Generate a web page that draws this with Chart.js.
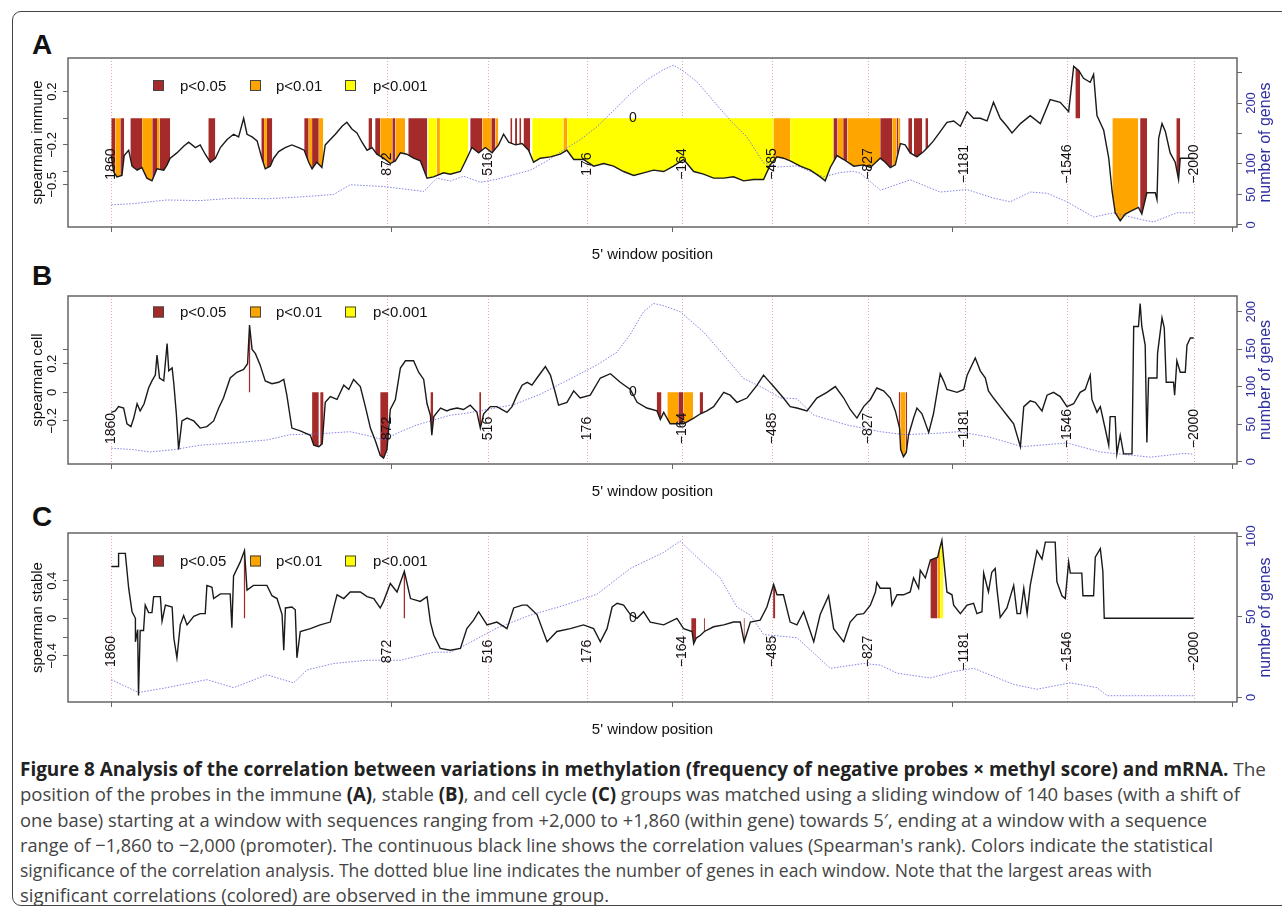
<!DOCTYPE html>
<html>
<head>
<meta charset="utf-8">
<script src="https://cdn.jsdelivr.net/npm/chart.js@4.4.1/dist/chart.umd.min.js"></script>
<style>
  body { margin: 0; background: #fff; width: 1282px; height: 915px; overflow: hidden; position: relative; }
  #frame { position: absolute; left: 12px; top: 11px; width: 1300px; height: 893px; border: 1.5px solid #444; border-radius: 9px; }
  canvas { position: absolute; left: 0; }
  .letter { position: absolute; left: 32px; font: bold 28px "Liberation Sans", Arial, sans-serif; line-height: 1; color: #111; }
  #caption { position: absolute; left: 20px; top: 757px; font-family: "Open Sans", sans-serif; font-size: 19px; line-height: 25.3px; color: #444; }
  #caption div { white-space: nowrap; transform-origin: 0 50%; width: max-content; }
  #caption b { color: #222; }
</style>
</head>
<body>
<div id="frame"></div>
<div class="letter" style="top:31px">A</div>
<div class="letter" style="top:262px">B</div>
<div class="letter" style="top:503px">C</div>
<canvas id="cA" width="1282" height="231" style="top:38px"></canvas>
<canvas id="cB" width="1282" height="230" style="top:276px"></canvas>
<canvas id="cC" width="1282" height="231" style="top:513px"></canvas>
<div id="caption">
  <div><b>Figure 8 Analysis of the correlation between variations in methylation (frequency of negative probes × methyl score) and mRNA.</b> The</div>
  <div>position of the probes in the immune <b>(A)</b>, stable <b>(B)</b>, and cell cycle <b>(C)</b> groups was matched using a sliding window of 140 bases (with a shift of</div>
  <div>one base) starting at a window with sequences ranging from +2,000 to +1,860 (within gene) towards 5′, ending at a window with a sequence</div>
  <div>range of −1,860 to −2,000 (promoter). The continuous black line shows the correlation values (Spearman's rank). Colors indicate the statistical</div>
  <div>significance of the correlation analysis. The dotted blue line indicates the number of genes in each window. Note that the largest areas with</div>
  <div>significant correlations (colored) are observed in the immune group.</div>
</div>
<script>
'use strict';

// ---- shared axis data (window index along x) ----
const xTickValues = [0, 1000, 2000, 3000, 4000];
const posLabelIdx = [0, 983, 1343, 1697, 2035, 2356, 2699, 3043, 3408, 3860];
const posLabelText = ['1860', '872', '516', '176', '\u2212164', '\u2212485', '\u2212827', '\u22121181', '\u22121546', '\u22122000'];
const zeroIdx = 1860;
const sigLegend = ['p<0.05', 'p<0.01', 'p<0.001'];
const sigColors = ['#a52a2a', '#ffa500', '#ffff00'];

// ---- A: immune ----
const immuneX = [0,8,20,38,46,62,74,92,109,127,145,163,187,199,210,234,258,276,300,317,335,353,371,389,413,436,454,472,484,502,520,537,549,567,579,597,620,644,668,688,704,716,733,751,763,781,799,823,840,858,876,894,912,930,947,971,995,1013,1031,1054,1078,1102,1126,1149,1185,1209,1245,1268,1286,1310,1334,1358,1381,1399,1417,1441,1465,1488,1506,1530,1566,1601,1625,1649,1684,1720,1756,1791,1827,1863,1898,1934,1970,2005,2041,2077,2112,2148,2184,2219,2255,2291,2326,2350,2374,2397,2421,2457,2493,2528,2546,2564,2588,2612,2648,2683,2707,2742,2760,2778,2796,2814,2831,2849,2873,2897,2915,2932,2956,2980,3004,3028,3052,3075,3099,3123,3146,3170,3194,3212,3242,3277,3313,3348,3384,3414,3432,3450,3467,3491,3503,3515,3539,3557,3569,3580,3598,3616,3634,3663,3675,3693,3723,3729,3735,3747,3759,3776,3794,3806,3812,3848,3860];
const immuneRho = [-0.28,-0.40,-0.44,-0.43,-0.28,-0.24,-0.36,-0.39,-0.37,-0.45,-0.47,-0.38,-0.39,-0.35,-0.30,-0.26,-0.21,-0.18,-0.22,-0.20,-0.27,-0.33,-0.30,-0.22,-0.16,-0.12,-0.14,0.00,-0.12,-0.14,-0.17,-0.30,-0.38,-0.36,-0.30,-0.25,-0.22,-0.20,-0.22,-0.24,-0.33,-0.38,-0.33,-0.37,-0.20,-0.16,-0.12,-0.06,-0.03,-0.08,-0.11,-0.18,-0.24,-0.22,-0.27,-0.30,-0.34,-0.32,-0.26,-0.27,-0.30,-0.32,-0.45,-0.44,-0.41,-0.42,-0.40,-0.30,-0.22,-0.26,-0.22,-0.26,-0.20,-0.12,-0.18,-0.20,-0.19,-0.24,-0.33,-0.30,-0.29,-0.27,-0.24,-0.31,-0.31,-0.36,-0.34,-0.36,-0.40,-0.43,-0.41,-0.39,-0.40,-0.36,-0.31,-0.40,-0.42,-0.45,-0.45,-0.44,-0.47,-0.46,-0.46,-0.35,-0.29,-0.30,-0.32,-0.36,-0.39,-0.44,-0.47,-0.37,-0.28,-0.31,-0.36,-0.35,-0.37,-0.30,-0.33,-0.37,-0.35,-0.19,-0.20,-0.26,-0.29,-0.25,-0.21,-0.17,-0.10,-0.03,-0.02,-0.06,0.05,0.00,0.00,-0.02,0.12,0.00,-0.06,-0.11,-0.04,0.02,-0.04,0.14,0.12,0.05,0.39,0.36,0.30,0.27,0.33,0.02,-0.09,-0.30,-0.55,-0.71,-0.77,-0.72,-0.70,-0.67,-0.72,-0.56,-0.56,-0.61,-0.15,-0.04,-0.10,-0.26,-0.33,-0.46,-0.30,-0.30,-0.30];
const immuneGenesX = [0,79,198,317,436,555,674,793,852,971,1114,1162,1209,1257,1316,1376,1495,1554,1613,1673,1732,1803,1851,1910,1970,2005,2041,2088,2124,2172,2207,2267,2326,2374,2445,2540,2600,2648,2671,2743,2849,2956,3052,3146,3206,3277,3337,3408,3503,3574,3681,3717,3800,3860];
const immuneGenes = [33,35,41,40,44,43,46,50,66,63,55,77,72,80,70,75,90,105,123,140,161,193,215,238,255,262,252,235,216,190,172,144,102,95,97,79,86,88,85,57,74,54,58,44,38,54,52,38,13,20,8,5,20,20];
const immuneSigStart = [0,14,32,68,110,146,163,172,346,535,545,555,688,704,716,740,917,941,959,1002,1013,1059,1130,1160,1172,1280,1323,1355,1370,1423,1440,1455,1470,1501,1612,1626,2361,2421,2575,2590,2610,2625,2742,2785,2800,2806,2842,2862,2903,3438,3570,3669,3798];
const immuneSigEnd = [14,32,46,110,146,163,172,210,371,545,555,574,704,716,740,756,930,959,1002,1013,1048,1127,1160,1172,1273,1323,1355,1370,1380,1430,1447,1462,1494,1612,1626,2361,2421,2575,2590,2610,2625,2742,2785,2800,2806,2814,2856,2892,2913,3455,3662,3694,3812];
const immuneSigLevel = [1,2,1,1,2,1,2,1,1,1,2,1,1,2,1,2,1,1,2,1,2,1,3,2,3,1,2,1,2,1,1,1,1,3,2,3,2,3,1,2,1,2,1,2,1,2,1,1,1,1,2,1,1];
const immuneTicks = [0.2, 0, -0.2, -0.4, -0.5];
const immuneTickLabels = ['0.2', '', '\u22120.2', '', '\u22120.5'];
const immuneGeneTicks = [0, 50, 100, 150, 200, 250];
const immuneGeneTickLabels = ['0', '50', '100', '', '200', ''];

// ---- B: cell ----
const cellX = [0,14,26,44,56,70,80,92,103,117,133,145,157,163,172,187,199,205,217,223,232,240,252,270,294,317,341,365,383,400,424,448,472,486,493,502,514,531,549,573,597,615,626,644,674,710,722,740,752,763,781,805,829,847,864,888,906,924,942,959,971,983,995,1013,1031,1049,1078,1096,1114,1126,1138,1143,1150,1174,1197,1209,1233,1256,1280,1304,1316,1328,1352,1375,1411,1429,1447,1465,1483,1500,1518,1548,1566,1583,1595,1625,1649,1672,1708,1744,1780,1815,1851,1875,1910,1946,1958,1970,1993,2041,2077,2101,2124,2148,2184,2207,2231,2267,2303,2326,2344,2362,2397,2421,2445,2481,2516,2552,2582,2612,2635,2659,2683,2707,2730,2754,2778,2796,2811,2815,2825,2835,2843,2861,2873,2891,2915,2932,2956,2968,2980,3016,3040,3052,3081,3099,3117,3128,3146,3170,3194,3218,3242,3254,3277,3295,3319,3337,3360,3384,3408,3432,3455,3473,3491,3497,3515,3527,3545,3557,3562,3580,3586,3598,3610,3640,3646,3663,3669,3675,3687,3693,3699,3729,3731,3747,3755,3762,3788,3792,3800,3812,3830,3836,3848,3860];
const cellRho = [-0.14,-0.13,-0.10,-0.11,-0.22,-0.24,-0.18,-0.08,-0.13,-0.08,0.03,0.08,0.12,0.26,0.10,0.08,0.34,0.15,0.17,0.06,-0.15,-0.40,-0.20,-0.18,-0.20,-0.25,-0.24,-0.20,-0.11,-0.04,0.10,0.14,0.16,0.20,0.47,0.30,0.27,0.19,0.08,0.06,0.07,0.09,-0.02,-0.25,-0.27,-0.30,-0.37,-0.38,-0.36,-0.07,-0.03,-0.05,0.05,0.02,0.09,0.04,-0.10,-0.25,-0.34,-0.44,-0.46,-0.40,-0.12,-0.05,0.17,0.22,0.22,0.14,0.09,-0.08,-0.16,-0.30,-0.17,-0.11,-0.13,-0.12,-0.11,-0.12,-0.09,-0.14,-0.25,-0.15,-0.10,-0.10,-0.14,-0.10,-0.02,0.05,0.07,0.05,0.10,0.18,0.12,0.00,-0.09,-0.07,0.01,-0.04,-0.02,0.10,0.13,0.07,0.02,-0.07,-0.11,-0.13,-0.19,-0.14,-0.22,-0.22,-0.18,-0.15,-0.13,-0.10,0.00,-0.02,-0.07,-0.04,0.05,0.12,0.08,0.04,-0.04,-0.10,-0.11,-0.13,-0.04,0.00,0.04,-0.04,-0.12,-0.18,-0.10,-0.05,0.03,0.01,-0.04,-0.13,-0.25,-0.40,-0.45,-0.42,-0.30,-0.18,-0.11,-0.15,-0.28,-0.15,0.13,0.08,0.02,0.00,0.02,0.12,0.24,0.15,0.10,0.01,-0.04,-0.10,-0.16,-0.22,-0.38,-0.10,-0.06,-0.07,-0.13,-0.02,0.00,-0.03,-0.10,-0.08,0.00,0.02,0.12,-0.05,-0.14,-0.10,-0.26,-0.37,-0.17,-0.17,-0.43,-0.30,-0.43,-0.43,0.46,0.46,0.62,0.46,0.33,-0.35,0.10,0.10,0.27,0.52,0.45,0.07,0.07,-0.02,0.22,0.14,0.14,0.33,0.38,0.38];
const cellGenesX = [0,79,139,222,317,436,555,638,733,852,912,971,1031,1090,1209,1257,1435,1530,1613,1732,1803,1851,1898,1934,1970,2029,2112,2184,2255,2326,2386,2445,2505,2624,2743,2831,2950,3022,3129,3248,3408,3527,3705,3824,3860];
const cellGenes = [18,16,13,16,22,25,29,36,37,40,35,29,40,49,62,64,76,90,106,129,146,170,200,211,208,200,173,142,111,98,85,84,62,49,40,36,38,40,33,20,25,13,6,11,10];
const cellSigStart = [490,716,745,959,1138,1312,1945,1983,2022,2040,2098,2808,2814,2833];
const cellSigEnd = [496,740,757,988,1148,1319,1962,2022,2040,2075,2110,2814,2833,2838];
const cellSigLevel = [1,1,1,1,1,1,1,2,1,2,1,1,2,1];
const cellTicks = [0.3, 0.2, 0, -0.2];
const cellTickLabels = ['', '0.2', '0', '\u22120.2'];
const cellGeneTicks = [0, 50, 100, 150, 200];
const cellGeneTickLabels = ['0', '50', '100', '150', '200'];

// ---- C: stable ----
const stableX = [0,26,26,50,62,74,86,86,94,97,103,115,121,133,145,151,175,181,193,217,223,234,246,258,270,294,317,335,341,359,365,389,424,430,436,460,475,484,507,555,573,591,609,615,621,644,656,662,674,710,745,781,793,805,829,852,888,912,936,959,971,995,1019,1045,1067,1102,1126,1138,1150,1173,1209,1245,1268,1292,1310,1340,1375,1411,1435,1465,1483,1518,1554,1589,1637,1684,1720,1744,1768,1786,1804,1827,1851,1875,1898,1922,1970,2017,2041,2071,2077,2086,2101,2115,2148,2184,2219,2243,2257,2279,2314,2338,2362,2374,2397,2421,2445,2469,2505,2528,2558,2576,2612,2635,2659,2683,2707,2725,2730,2742,2778,2784,2802,2825,2849,2861,2879,2885,2903,2921,2947,2954,2962,2968,2980,2998,3004,3028,3052,3075,3087,3105,3111,3128,3140,3152,3158,3170,3194,3218,3230,3242,3254,3266,3277,3301,3319,3331,3366,3372,3390,3402,3414,3420,3461,3465,3503,3509,3527,3536,3541,3860];
const stableRho = [0.55,0.55,0.69,0.69,0.32,0.07,0.00,-0.25,-0.12,-0.82,-0.13,-0.13,0.14,0.06,0.06,0.23,0.23,-0.03,0.14,0.12,-0.21,-0.42,-0.07,0.03,-0.07,0.02,0.05,0.05,0.35,0.33,0.21,0.26,0.26,-0.10,0.45,0.60,0.72,0.30,0.35,0.35,0.24,0.21,0.04,-0.34,0.11,0.12,0.09,-0.42,-0.14,-0.11,-0.07,-0.04,0.11,0.25,0.21,0.28,0.28,0.23,0.21,0.11,0.18,0.37,0.28,0.50,0.21,0.18,0.23,-0.04,-0.18,-0.32,-0.34,-0.32,-0.11,-0.02,0.07,-0.07,-0.04,-0.11,0.11,0.14,0.14,0.04,-0.25,-0.14,-0.11,-0.07,-0.11,-0.25,-0.11,0.12,0.16,0.14,0.04,0.00,0.07,-0.04,-0.07,0.00,-0.11,-0.14,-0.27,-0.21,-0.18,-0.14,-0.09,-0.07,-0.04,-0.04,-0.25,-0.04,-0.02,0.12,0.36,0.25,0.25,-0.04,-0.07,0.07,-0.25,0.04,0.24,-0.11,-0.25,-0.04,0.04,0.05,0.14,0.28,0.38,0.32,0.32,0.14,0.25,0.25,0.28,0.43,0.32,0.51,0.43,0.62,0.65,0.74,0.83,0.64,0.28,0.25,0.14,0.05,0.14,0.16,0.05,0.07,0.48,0.28,0.49,0.53,0.32,0.01,0.11,0.35,0.05,0.05,0.32,0.05,0.35,0.72,0.63,0.81,0.81,0.39,0.24,0.21,0.60,0.48,0.48,0.24,0.24,0.65,0.74,0.50,0.00,0.00];
const stableGenesX = [0,97,198,341,436,555,650,698,793,912,1031,1150,1209,1257,1375,1494,1613,1732,1851,1970,2029,2088,2172,2231,2279,2326,2445,2564,2683,2743,2802,2921,3004,3075,3218,3301,3420,3515,3551,3860];
const stableGenes = [11,3,6,11,6,14,9,17,21,23,23,28,28,32,43,51,57,64,80,90,97,87,74,56,51,39,37,18,21,20,15,12,16,18,8,5,9,6,1,1];
const stableSigStart = [472,1042,2068,2113,2255,2360,2921,2946,2956];
const stableSigEnd = [478,1048,2086,2117,2259,2368,2946,2956,2967];
const stableSigLevel = [1,1,1,1,1,1,1,2,3];
const stableTicks = [0.4, 0.2, 0, -0.2, -0.4];
const stableTickLabels = ['0.4', '', '0', '', '\u22120.4'];
const stableGeneTicks = [0, 50, 100];
const stableGeneTickLabels = ['0', '50', '100'];

// ---- page layout ----
const FONT = '"Liberation Sans", Arial, Helvetica, sans-serif';
const INK = '#111';
const GENE_BLUE = '#2f2fa0';
const LEFT_W = 68, RIGHT_W = 45, X_H = 42, PAD_TOP = 20;
const X_MIN = -154.4, X_MAX = 4014.4;
const legendBoxX = [153, 250, 345];
const legendTextX = [180, 276, 373];

Chart.defaults.font.family = FONT;

function lineAt(xs, ys, v) {
  for (let k = 1; k < xs.length; k++) {
    if (xs[k] >= v) {
      const x0 = xs[k - 1], x1 = xs[k];
      if (x1 === x0) return ys[k];
      return ys[k - 1] + (ys[k] - ys[k - 1]) * (v - x0) / (x1 - x0);
    }
  }
  return ys[ys.length - 1];
}

function pairs(xs, ys) {
  return xs.map((x, k) => ({ x, y: ys[k] }));
}

// one filled area per significant stretch, bounded by the correlation line
function sigFills(xs, ys, starts, ends, levels) {
  return starts.map((s, k) => {
    const e = ends[k];
    const pts = [{ x: s, y: lineAt(xs, ys, s) }];
    xs.forEach((x, j) => { if (x > s && x < e) pts.push({ x, y: ys[j] }); });
    pts.push({ x: e, y: lineAt(xs, ys, e) });
    return {
      data: pts, yAxisID: 'y', fill: 'origin',
      backgroundColor: sigColors[levels[k] - 1],
      borderColor: 'rgba(0,0,0,0)', borderWidth: 0, pointRadius: 0, tension: 0
    };
  });
}

function decor(p) {
  return {
    id: 'decor',
    beforeDatasetsDraw(chart) {
      const { ctx, chartArea: a, scales: { x } } = chart;
      ctx.save();
      ctx.strokeStyle = 'rgba(236,130,130,0.75)';
      ctx.lineWidth = 1;
      ctx.setLineDash([1, 2]);
      ctx.beginPath();
      posLabelIdx.forEach(v => {
        const px = Math.round(x.getPixelForValue(v)) + 0.5;
        ctx.moveTo(px, a.top);
        ctx.lineTo(px, a.bottom);
      });
      ctx.stroke();
      ctx.restore();
    },
    afterDatasetsDraw(chart) {
      const { ctx, chartArea: a, scales: { x, y } } = chart;
      ctx.save();
      ctx.fillStyle = INK;
      ctx.font = '14px ' + FONT;
      ctx.textAlign = 'center';
      ctx.textBaseline = 'middle';
      const ly = y.getPixelForValue(p.labelY);
      posLabelIdx.forEach((v, i) => {
        ctx.save();
        ctx.translate(x.getPixelForValue(v), ly);
        ctx.rotate(-Math.PI / 2);
        ctx.fillText(posLabelText[i], 0, 0);
        ctx.restore();
      });
      ctx.fillText('0', x.getPixelForValue(zeroIdx), y.getPixelForValue(0));

      // legend inside the plot
      const cy = a.top + p.legendDy;
      ctx.font = '15px ' + FONT;
      ctx.textAlign = 'left';
      sigLegend.forEach((t, i) => {
        ctx.fillStyle = sigColors[i];
        ctx.fillRect(legendBoxX[i], cy - 5.5, 11, 11);
        ctx.strokeStyle = '#444';
        ctx.lineWidth = 1;
        ctx.strokeRect(legendBoxX[i] + 0.5, cy - 5, 10, 10);
        ctx.fillStyle = INK;
        ctx.fillText(t, legendTextX[i], cy + 1);
      });
      ctx.restore();
    },
    afterDraw(chart) {
      const { ctx, chartArea: a } = chart;
      ctx.save();
      ctx.strokeStyle = '#666';
      ctx.lineWidth = 1.5;
      ctx.strokeRect(a.left, a.top, a.right - a.left, a.bottom - a.top);
      ctx.fillStyle = GENE_BLUE;
      ctx.font = '16px ' + FONT;
      ctx.textAlign = 'center';
      ctx.textBaseline = 'middle';
      ctx.translate(1266, (a.top + a.bottom) / 2);
      ctx.rotate(-Math.PI / 2);
      ctx.fillText('number of genes', 0, 0);
      ctx.restore();
    }
  };
}

function makePanel(p) {
  const tickGrid = { drawOnChartArea: false, drawTicks: true, tickLength: 5, color: '#666' };
  return new Chart(document.getElementById(p.canvas), {
    type: 'line',
    data: {
      datasets: [
        { data: pairs(p.x, p.rho), yAxisID: 'y', borderColor: '#1a1a1a', borderWidth: 1.4, pointRadius: 0, tension: 0, fill: false },
        { data: pairs(p.genesX, p.genes), yAxisID: 'y2', borderColor: 'rgba(110,110,225,0.85)', borderWidth: 1, borderDash: [1.5, 1.5], pointRadius: 0, tension: 0, fill: false },
        ...sigFills(p.x, p.rho, p.sigStart, p.sigEnd, p.sigLevel)
      ]
    },
    options: {
      responsive: false,
      devicePixelRatio: 1,
      animation: false,
      events: [],
      layout: { padding: { top: PAD_TOP, bottom: 0, left: 0, right: 0 } },
      plugins: { legend: { display: false }, tooltip: { enabled: false } },
      scales: {
        x: {
          type: 'linear', min: X_MIN, max: X_MAX,
          afterBuildTicks: s => { s.ticks = xTickValues.map(v => ({ value: v })); },
          ticks: { display: false },
          grid: tickGrid,
          border: { display: false },
          title: { display: true, text: "5' window position", color: INK, font: { size: 15 }, padding: { top: 0, bottom: 5 } },
          afterFit: s => { s.height = X_H; }
        },
        y: {
          position: 'left', min: p.yMin, max: p.yMax,
          afterBuildTicks: s => { s.ticks = p.ticks.map(v => ({ value: v })); },
          ticks: { callback: (v, i) => p.tickLabels[i], minRotation: 90, maxRotation: 90, crossAlign: 'center', padding: -2, color: INK, font: { size: 13 } },
          grid: tickGrid,
          border: { display: false },
          title: { display: true, text: p.yTitle, color: INK, font: { size: 15 }, padding: { top: 29, bottom: 0 } },
          afterFit: s => { s.width = LEFT_W; }
        },
        y2: {
          position: 'right', min: p.gMin, max: p.gMax,
          afterBuildTicks: s => { s.ticks = p.geneTicks.map(v => ({ value: v })); },
          ticks: { callback: (v, i) => p.geneTickLabels[i], minRotation: 90, maxRotation: 90, crossAlign: 'center', padding: -1, color: GENE_BLUE, font: { size: 13 } },
          grid: tickGrid,
          border: { display: false },
          afterFit: s => { s.width = RIGHT_W; }
        }
      }
    },
    plugins: [decor(p)]
  });
}

makePanel({
  canvas: 'cA', yTitle: 'spearman immune', yMin: -0.817, yMax: 0.453, gMin: -3.3, gMax: 273.8,
  labelY: -0.344, legendDy: 27.5,
  x: immuneX, rho: immuneRho, genesX: immuneGenesX, genes: immuneGenes,
  sigStart: immuneSigStart, sigEnd: immuneSigEnd, sigLevel: immuneSigLevel,
  ticks: immuneTicks, tickLabels: immuneTickLabels, geneTicks: immuneGeneTicks, geneTickLabels: immuneGeneTickLabels
});
makePanel({
  canvas: 'cB', yTitle: 'spearman cell', yMin: -0.501, yMax: 0.673, gMin: -3.1, gMax: 221,
  labelY: -0.253, legendDy: 16,
  x: cellX, rho: cellRho, genesX: cellGenesX, genes: cellGenes,
  sigStart: cellSigStart, sigEnd: cellSigEnd, sigLevel: cellSigLevel,
  ticks: cellTicks, tickLabels: cellTickLabels, geneTicks: cellGeneTicks, geneTickLabels: cellGeneTickLabels
});
makePanel({
  canvas: 'cC', yTitle: 'spearman stable', yMin: -0.890, yMax: 0.907, gMin: -2.9, gMax: 102,
  labelY: -0.353, legendDy: 28,
  x: stableX, rho: stableRho, genesX: stableGenesX, genes: stableGenes,
  sigStart: stableSigStart, sigEnd: stableSigEnd, sigLevel: stableSigLevel,
  ticks: stableTicks, tickLabels: stableTickLabels, geneTicks: stableGeneTicks, geneTickLabels: stableGeneTickLabels
});

// fit each caption line to its width in the figure
const captionWidths = [1246, 1220, 1187, 1193, 1132, 589];
document.fonts.ready.then(() => {
  document.querySelectorAll('#caption > div').forEach((el, i) => {
    const w = el.getBoundingClientRect().width;
    el.style.transform = 'scaleX(' + (captionWidths[i] / w).toFixed(4) + ')';
  });
});
</script>
</body>
</html>
